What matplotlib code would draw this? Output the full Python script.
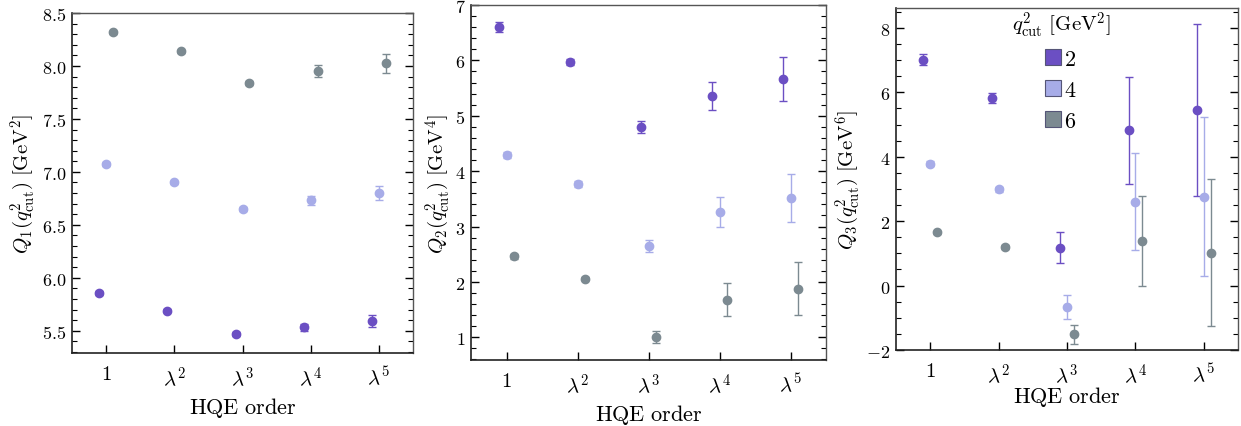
import matplotlib
matplotlib.use("Agg")
import matplotlib.pyplot as plt
import numpy as np
from matplotlib.ticker import MultipleLocator, FormatStrFormatter, FixedLocator
from matplotlib.patches import Patch

plt.rcParams['mathtext.fontset'] = 'cm'
plt.rcParams['font.family'] = ['DejaVu Serif']

orders = ['$1$', r'$\lambda^2$', r'$\lambda^3$', r'$\lambda^4$', r'$\lambda^5$']
qcut_labels = ['2', '4', '6']
colors = ['#6b4fc3', '#a7ace8', '#7c8a91']

# Q1
q1_vals = [
    [5.856, 5.689, 5.469, 5.532, 5.589],
    [7.074, 6.901, 6.649, 6.731, 6.797],
    [8.318, 8.140, 7.839, 7.952, 8.025],
]
q1_errs = [
    [0.015, 0.015, 0.015, 0.03, 0.058],
    [0.015, 0.015, 0.015, 0.04, 0.065],
    [0.015, 0.015, 0.02, 0.053, 0.09],
]
# Q2
q2_vals = [
    [6.60, 5.97, 4.79, 5.36, 5.67],
    [4.29, 3.77, 2.65, 3.26, 3.52],
    [2.46, 2.06, 1.01, 1.68, 1.88],
]
q2_errs = [
    [0.09, 0.06, 0.11, 0.25, 0.40],
    [0.06, 0.05, 0.114, 0.27, 0.43],
    [0.04, 0.03, 0.11, 0.30, 0.475],
]
# Q3
q3_vals = [
    [7.02, 5.82, 1.18, 4.83, 5.44],
    [3.79, 2.99, -0.67, 2.61, 2.76],
    [1.66, 1.20, -1.51, 1.39, 1.02],
]
q3_errs = [
    [0.17, 0.15, 0.47, 1.66, 2.67],
    [0.08, 0.07, 0.38, 1.52, 2.46],
    [0.05, 0.05, 0.29, 1.39, 2.29],
]

ylabels = [r'$Q_1(q^2_{\rm cut})\ [\mathrm{GeV}^2]$',
           r'$Q_2(q^2_{\rm cut})\ [\mathrm{GeV}^4]$',
           r'$Q_3(q^2_{\rm cut})\ [\mathrm{GeV}^6]$']

W, H = 1241, 427
fig = plt.figure(figsize=(W / 100, H / 100), dpi=100)

def rect(l, t, r, b):
    return [l / W, 1 - b / H, (r - l) / W, (b - t) / H]

axes_rects = [rect(72, 14, 413, 354), rect(471, 6, 826, 361), rect(896, 9, 1238, 351)]
ylims = [(5.29, 8.5), (0.59, 7.0), (-2.0, 8.62)]
majors = [0.5, 1, 2]
minors = [0.1, 0.2, 0.5]
fmts = ['$%.1f$', '$%d$', '$%d$']
ylabelx = [23, 438, 848]
xlabely = [408, 415, 397]
offsets = [-0.1, 0.0, 0.1]

datasets = [(q1_vals, q1_errs), (q2_vals, q2_errs), (q3_vals, q3_errs)]
x = np.arange(1, len(orders) + 1)

for i, (vals, errs) in enumerate(datasets):
    ax = fig.add_axes(axes_rects[i])
    for j in range(3):
        ax.errorbar(x + offsets[j], vals[j], yerr=errs[j], fmt='o', color=colors[j],
                    ms=6, elinewidth=1.0, capsize=3, capthick=1.0, zorder=3)
    ax.set_xlim(0.5, 5.5)
    ax.set_ylim(*ylims[i])
    ax.xaxis.set_major_locator(FixedLocator(x))
    ax.set_xticklabels(orders, fontsize=15)
    ax.yaxis.set_major_locator(MultipleLocator(majors[i]))
    ax.yaxis.set_minor_locator(MultipleLocator(minors[i]))
    ax.yaxis.set_major_formatter(FormatStrFormatter(fmts[i]))
    for lab in ax.get_yticklabels():
        lab.set_fontsize(13)
    ax.tick_params(axis='y', which='both', direction='in', left=True, right=True)
    ax.tick_params(axis='y', which='major', length=6, width=1.0, pad=4)
    ax.tick_params(axis='y', which='minor', length=3.5, width=0.8)
    ax.tick_params(axis='x', which='major', direction='in', length=6, width=1.0, top=False, pad=8)
    ax.tick_params(axis='x', which='minor', bottom=False, top=False)
    for s in ['left', 'bottom']:
        ax.spines[s].set_color('#222222')
        ax.spines[s].set_linewidth(1.2)
    for s in ['top', 'right']:
        ax.spines[s].set_color('#555555')
        ax.spines[s].set_linewidth(1.0)
    ax.set_ylabel(ylabels[i], fontsize=15)
    ax.yaxis.set_label_coords((ylabelx[i] - axes_rects[i][0] * W) / (axes_rects[i][2] * W), 0.5)
    ax.set_xlabel(r'$\mathrm{HQE\ order}$', fontsize=16)
    bottom_px = H * (1 - axes_rects[i][1])
    ax.xaxis.set_label_coords(0.5, -(xlabely[i] - bottom_px) / (axes_rects[i][3] * H), transform=ax.transAxes)
    ax.xaxis.label.set_va('center')
    ax.yaxis.label.set_va('center')

    if i == 2:
        handles = [Patch(facecolor=colors[j], edgecolor='#555577', linewidth=0.8) for j in range(3)]
        leg = ax.legend(handles, [f'${l}$' for l in qcut_labels],
                        title=r'$q^2_{\rm cut}\ [\mathrm{GeV}^2]$',
                        loc='upper center', bbox_to_anchor=((1061 - 896) / 342, 1.035),
                        frameon=False, fontsize=16, title_fontsize=15,
                        handlelength=0.7, handleheight=0.7, handletextpad=0.15,
                        labelspacing=0.4, borderpad=0.1)

fig.savefig('out.png', dpi=100)
